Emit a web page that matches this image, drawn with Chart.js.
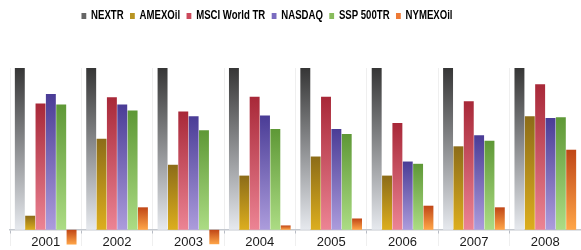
<!DOCTYPE html>
<html>
<head>
<meta charset="utf-8">
<script src="https://cdn.jsdelivr.net/npm/chart.js@4"></script>
<style>
  html, body { margin: 0; padding: 0; background: #fff; }
  #wrap { width: 581px; height: 250px; }
</style>
</head>
<body>
<div id="wrap"><canvas id="chart"></canvas></div>
<script>
const years = ['2001', '2002', '2003', '2004', '2005', '2006', '2007', '2008'];

const nextr = [100, 100, 100, 100, 100, 100, 100, 100];
const amexOil = [8.7, 56.3, 40.2, 33.5, 45.3, 33.5, 51.6, 70.2];
const msciWorld = [78, 82, 73.1, 82.2, 82.2, 66, 79.5, 89.9];
const nasdaq = [84, 77.5, 70.2, 70.6, 62.3, 42.2, 58.4, 69.1];
const ssp500 = [77.5, 73.7, 61.5, 62.3, 59.2, 40.8, 55.1, 69.6];
const nymexOil = [-9.1, 13.9, -8.9, 2.7, 7.0, 14.9, 13.9, 49.5];

const seriesNames = ['NEXTR', 'AMEXOil', 'MSCI World TR', 'NASDAQ', 'SSP 500TR', 'NYMEXOil'];
const seriesData = [nextr, amexOil, msciWorld, nasdaq, ssp500, nymexOil];
// top colour, bottom colour of each bar
const topColors = ['#363636', '#8c6c18', '#a82838', '#4a3c96', '#5e9836', '#c04616'];
const bottomColors = ['#e6e9ee', '#dcae1e', '#ec8494', '#ac9cdc', '#acdc84', '#ffa648'];
const legendColors = ['#666666', '#b89422', '#cc4a5c', '#7a6cc0', '#88bc5c', '#ee7a36'];

function barGradient(i) {
    return function(context) {
        const chart = context.chart;
        const yScale = chart.scales.y;
        if (!chart.chartArea || !yScale || context.raw === undefined) {
            return topColors[i];
        }
        const top = yScale.getPixelForValue(Math.max(context.raw, 0));
        const bottom = yScale.getPixelForValue(Math.min(context.raw, 0));
        const g = chart.ctx.createLinearGradient(0, top, 0, bottom);
        g.addColorStop(0, topColors[i]);
        g.addColorStop(1, bottomColors[i]);
        return g;
    };
}

// extra space under the legend, and a squeezed (narrow) legend a bit left of centre
const legendTweaks = {
    id: 'legendTweaks',
    beforeInit(chart) {
        const legend = chart.legend;
        const fit = legend.fit;
        legend.fit = function() {
            fit.bind(legend)();
            this.height += 38;
        };
        const draw = legend.draw;
        legend.draw = function() {
            const ctx = chart.ctx;
            const cx = (legend.left + legend.right) / 2;
            ctx.save();
            ctx.translate(267, 2);
            ctx.scale(0.8, 1);
            ctx.translate(-cx, 0);
            draw.bind(legend)();
            ctx.restore();
        };
    }
};

new Chart(document.getElementById('chart'), {
    type: 'bar',
    data: {
        labels: years,
        datasets: seriesNames.map((name, i) => ({
            label: name,
            data: seriesData[i],
            backgroundColor: barGradient(i),
            borderWidth: 0,
            categoryPercentage: 0.87,
            barPercentage: 0.96
        }))
    },
    options: {
        responsive: true,
        maintainAspectRatio: false,
        animation: false,
        layout: { padding: { left: 10, right: 0, top: 0, bottom: 4 } },
        scales: {
            x: {
                position: { y: 0 },
                grid: {
                    color: '#efefef',
                    tickLength: 3,
                    tickColor: '#b8bcc4'
                },
                border: { color: '#c4c8ce', width: 1.5 },
                ticks: {
                    color: '#1a1a1a',
                    padding: 2,
                    font: { family: 'Liberation Sans, Arial', size: 13 }
                }
            },
            y: {
                display: false,
                min: -10,
                max: 100
            }
        },
        plugins: {
            legend: {
                position: 'top',
                labels: {
                    boxWidth: 6,
                    boxHeight: 6,
                    padding: 8,
                    color: '#1a1a1a',
                    font: { family: 'Liberation Sans, Arial, sans-serif', size: 12, weight: 'bold' },
                    generateLabels: function(chart) {
                        return seriesNames.map((name, i) => ({
                            text: name,
                            fillStyle: legendColors[i],
                            strokeStyle: legendColors[i],
                            lineWidth: 0,
                            datasetIndex: i,
                            hidden: false
                        }));
                    }
                }
            },
            tooltip: { enabled: false }
        }
    },
    plugins: [legendTweaks]
});
</script>
</body>
</html>
